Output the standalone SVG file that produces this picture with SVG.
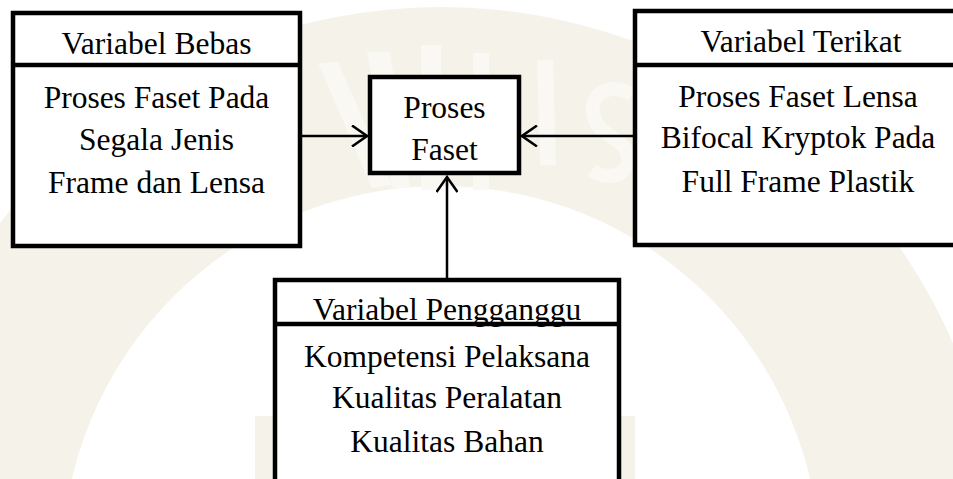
<svg xmlns="http://www.w3.org/2000/svg" width="953" height="479" viewBox="0 0 953 479">
<style>
.box{fill:#fff;stroke:#000;stroke-width:4.5}
.div{stroke:#000;stroke-width:4.5}
.t{font-family:"Liberation Serif","Times New Roman",serif;font-size:31.5px;fill:#000;text-anchor:middle}
.c{stroke:#000;stroke-width:2.5;fill:none}
.wm{fill:#f5f2e9}
</style>
<defs>
<marker id="arr" viewBox="0 0 18 22" refX="16" refY="11" markerWidth="18" markerHeight="22" markerUnits="userSpaceOnUse" orient="auto">
<path d="M1,0.5 L16,11 L1,21.5" fill="none" stroke="#000" stroke-width="2.5"/>
</marker>
</defs>
<rect width="953" height="479" fill="#fff"/>
<g id="watermark">
<path class="wm" fill-rule="evenodd" d="M-117,565 A558,558 0 1 1 999,565 A558,558 0 1 1 -117,565 Z M62,565 A379,379 0 1 0 820,565 A379,379 0 1 0 62,565 Z"/>
<rect class="wm" x="255" y="416" width="380" height="70"/>
<g fill="#faf8f3">
<polygon points="318,63 338,62 392,185 372,188"/>
<polygon points="367,52 390,52 410,188 392,188"/>
<rect x="421" y="45" width="20" height="145"/>
<rect x="473" y="53" width="16" height="137"/>
<polygon points="537,60 553,60 556,165 540,165"/>
<path d="M632,95 C610,80 585,95 595,120 C602,138 630,140 628,160 C626,178 605,180 592,170" fill="none" stroke="#faf8f3" stroke-width="14"/>
</g>
</g>
<g id="connectors">
<line class="c" x1="302" y1="136" x2="367" y2="136" marker-end="url(#arr)"/>
<line class="c" x1="633" y1="136" x2="522" y2="136" marker-end="url(#arr)"/>
<line class="c" x1="447" y1="278" x2="447" y2="177" marker-end="url(#arr)"/>
</g>
<g id="variabel-bebas">
<rect class="box" x="13" y="13" width="287" height="233"/>
<line class="div" x1="13" y1="65" x2="300" y2="65"/>
<text class="t" x="156.5" y="54">Variabel Bebas</text>
<text class="t" x="156.5" y="108">Proses Faset Pada</text>
<text class="t" x="156.5" y="150">Segala Jenis</text>
<text class="t" x="156.5" y="193">Frame dan Lensa</text>
</g>
<g id="proses-faset">
<rect class="box" x="370" y="77" width="149" height="96"/>
<text class="t" x="444.5" y="118">Proses</text>
<text class="t" x="444.5" y="160">Faset</text>
</g>
<g id="variabel-terikat">
<rect class="box" x="635" y="11" width="340" height="234"/>
<line class="div" x1="635" y1="65" x2="975" y2="65"/>
<text class="t" x="801" y="52">Variabel Terikat</text>
<text class="t" x="798" y="107">Proses Faset Lensa</text>
<text class="t" x="798" y="148">Bifocal Kryptok Pada</text>
<text class="t" x="798" y="192">Full Frame Plastik</text>
</g>
<g id="variabel-pengganggu">
<rect class="box" x="275" y="280" width="344" height="230"/>
<line class="div" x1="275" y1="324" x2="619" y2="324"/>
<text class="t" x="447" y="320">Variabel Pengganggu</text>
<text class="t" x="447" y="367">Kompetensi Pelaksana</text>
<text class="t" x="447" y="408">Kualitas Peralatan</text>
<text class="t" x="447" y="452">Kualitas Bahan</text>
</g>
</svg>
